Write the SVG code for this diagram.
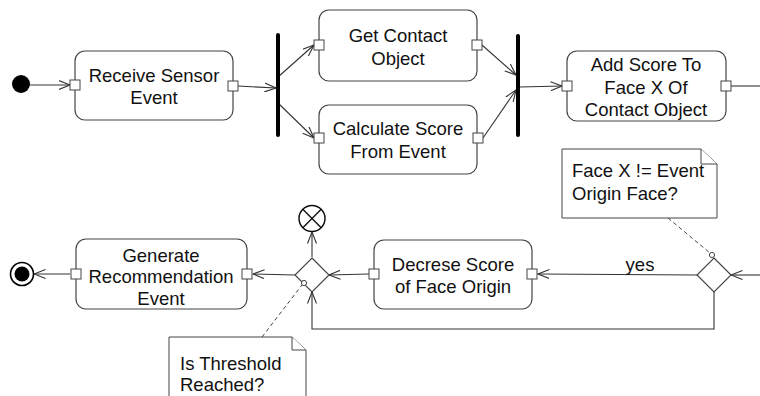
<svg xmlns="http://www.w3.org/2000/svg" width="760" height="396" viewBox="0 0 760 396">
<defs>
<style>
.box{fill:#fff;stroke:#444;stroke-width:1.2}
.pin{fill:#fff;stroke:#444;stroke-width:1}
.t{font-family:"Liberation Sans",Arial,Helvetica,sans-serif;font-size:18.5px;fill:#111;text-anchor:middle}
.tl{font-family:"Liberation Sans",Arial,Helvetica,sans-serif;font-size:18.5px;fill:#111}
.e{fill:none;stroke:#333;stroke-width:1.1}
.d{fill:none;stroke:#444;stroke-width:1;stroke-dasharray:4 3}
.note{fill:#fff;stroke:#444;stroke-width:1}
.bar{fill:#000}
</style>
<marker id="a" viewBox="0 0 12 10" refX="11.5" refY="5" markerWidth="12" markerHeight="10" orient="auto" markerUnits="userSpaceOnUse">
<path d="M0,0.5 L11.5,5 L0,9.5" fill="none" stroke="#333" stroke-width="1.1"/>
</marker>
</defs>
<rect width="760" height="396" fill="#fff"/>

<g id="connectors">
<line class="e" x1="30" y1="85" x2="70" y2="85" marker-end="url(#a)"/>
<line class="e" x1="238" y1="86" x2="276" y2="88" marker-end="url(#a)"/>
<line class="e" x1="278" y1="77" x2="314" y2="45" marker-end="url(#a)"/>
<line class="e" x1="278" y1="103" x2="314" y2="138" marker-end="url(#a)"/>
<line class="e" x1="482" y1="45" x2="516" y2="75" marker-end="url(#a)"/>
<line class="e" x1="483" y1="138" x2="516" y2="90" marker-end="url(#a)"/>
<line class="e" x1="520" y1="87" x2="562" y2="86" marker-end="url(#a)"/>
<line class="e" x1="731" y1="86" x2="760" y2="86"/>
<line class="e" x1="760" y1="275" x2="731" y2="275" marker-end="url(#a)"/>
<line class="e" x1="697" y1="275" x2="538" y2="274" marker-end="url(#a)"/>
<polyline class="e" points="714,292 714,329 312,329 312,292" marker-end="url(#a)"/>
<line class="e" x1="369" y1="274" x2="329" y2="275" marker-end="url(#a)"/>
<line class="e" x1="312" y1="257" x2="312" y2="232" marker-end="url(#a)"/>
<line class="e" x1="295" y1="275" x2="253" y2="274" marker-end="url(#a)"/>
<line class="e" x1="70" y1="274" x2="34" y2="274" marker-end="url(#a)"/>
<text class="t" x="640" y="271">yes</text>
<line class="d" x1="668" y1="218" x2="710" y2="253"/>
<line class="d" x1="262" y1="337" x2="302" y2="285"/>
</g>

<g id="start"><circle cx="21" cy="84" r="9" fill="#000"/></g>

<g id="receive">
<rect class="box" x="75" y="51" width="158" height="69" rx="10"/>
<rect class="pin" x="70" y="80" width="10" height="10"/>
<rect class="pin" x="228" y="81" width="10" height="10"/>
<text class="t" x="154" y="82">Receive Sensor</text>
<text class="t" x="154" y="104">Event</text>
</g>

<g id="fork"><rect class="bar" x="276" y="33" width="4" height="104" rx="2"/></g>

<g id="getContact">
<rect class="box" x="319" y="10" width="158" height="71" rx="10"/>
<rect class="pin" x="314" y="40" width="10" height="10"/>
<rect class="pin" x="472" y="40" width="10" height="10"/>
<text class="t" x="398" y="42">Get Contact</text>
<text class="t" x="398" y="65">Object</text>
</g>

<g id="calcScore">
<rect class="box" x="319" y="105" width="158" height="69" rx="10"/>
<rect class="pin" x="314" y="133" width="10" height="10"/>
<rect class="pin" x="473" y="133" width="10" height="10"/>
<text class="t" x="398" y="135">Calculate Score</text>
<text class="t" x="398" y="158">From Event</text>
</g>

<g id="join"><rect class="bar" x="516" y="34" width="4" height="103" rx="2"/></g>

<g id="addScore">
<rect class="box" x="567" y="51" width="159" height="70" rx="10"/>
<rect class="pin" x="562" y="81" width="10" height="10"/>
<rect class="pin" x="721" y="81" width="10" height="10"/>
<text class="t" x="646" y="71">Add Score To</text>
<text class="t" x="646" y="94">Face X Of</text>
<text class="t" x="646" y="116">Contact Object</text>
</g>

<g id="note1">
<path class="note" d="M562,149 H701 L717,164 V218 H562 Z"/>
<path class="note" d="M701,149 V164 H717"/>
<text class="tl" x="572" y="177">Face X != Event</text>
<text class="tl" x="572" y="200">Origin Face?</text>
</g>

<g id="decision1">
<path class="box" d="M714,258 L731,275 L714,292 L697,275 Z"/>
<circle cx="712" cy="255" r="2.6" fill="#fff" stroke="#444" stroke-width="1"/>
</g>

<g id="decrease">
<rect class="box" x="374" y="240" width="158" height="69" rx="10"/>
<rect class="pin" x="369" y="269" width="10" height="10"/>
<rect class="pin" x="527" y="269" width="10" height="10"/>
<text class="t" x="453" y="271">Decrese Score</text>
<text class="t" x="453" y="293">of Face Origin</text>
</g>

<g id="decision2">
<path class="box" d="M312,258 L329,275 L312,292 L295,275 Z"/>
<circle cx="304" cy="283" r="2.6" fill="#fff" stroke="#444" stroke-width="1"/>
</g>

<g id="flowFinal">
<circle cx="312" cy="218.5" r="13" fill="#fff" stroke="#111" stroke-width="1.5"/>
<path d="M302.8,209.3 L321.2,227.7 M321.2,209.3 L302.8,227.7" stroke="#111" stroke-width="1.4"/>
</g>

<g id="generate">
<rect class="box" x="76" y="239" width="171" height="70" rx="10"/>
<rect class="pin" x="71" y="269" width="10" height="10"/>
<rect class="pin" x="242" y="269" width="10" height="10"/>
<text class="t" x="161" y="262">Generate</text>
<text class="t" x="161" y="283">Recommendation</text>
<text class="t" x="161" y="305">Event</text>
</g>

<g id="end">
<circle cx="22" cy="274" r="11.5" fill="#fff" stroke="#000" stroke-width="1.6"/>
<circle cx="22" cy="274" r="7.5" fill="#000"/>
</g>

<g id="note2">
<path class="note" d="M169,400 V337 H292 L306,350 V400"/>
<path class="note" d="M292,337 V350 H306"/>
<text class="tl" x="180" y="370">Is Threshold</text>
<text class="tl" x="180" y="391">Reached?</text>
</g>
</svg>
